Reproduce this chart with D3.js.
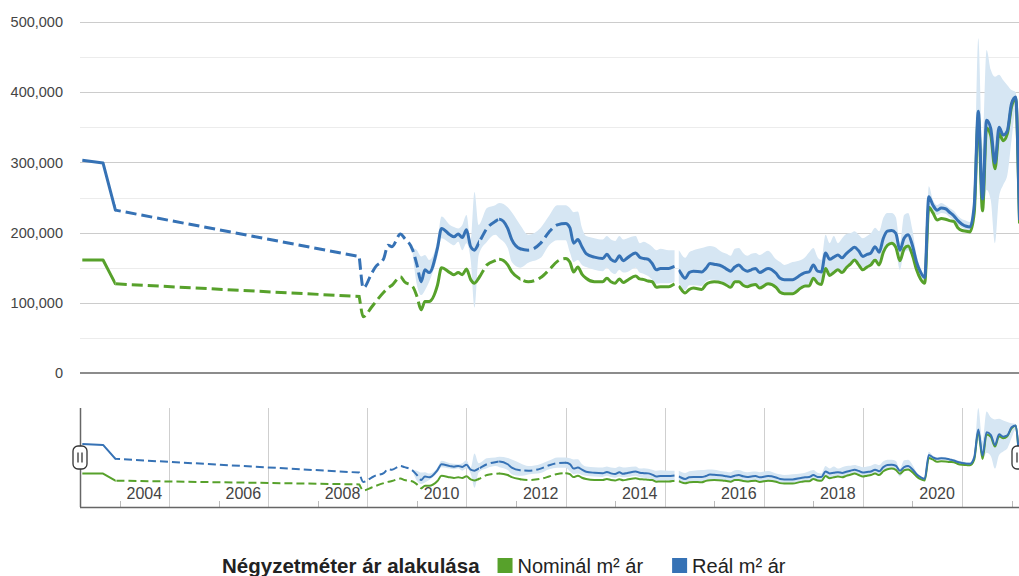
<!DOCTYPE html>
<html><head><meta charset="utf-8">
<script src="https://cdn.jsdelivr.net/npm/d3@7"></script>
<style>
body{margin:0;background:#fff;}
svg{display:block;font-family:Arial,"Liberation Sans",sans-serif;}
</style>
</head><body>
<svg id="chart" width="1019" height="576"></svg>
<script>
// Monthly square-metre prices, thousand Ft
const dates = ["2003-04","2003-09","2003-12","2008-11","2008-12","2009-02","2009-03","2009-05","2009-06","2009-07",
"2009-09","2009-10","2009-12","2010-01","2010-02","2010-03","2010-04","2010-06","2010-07","2010-09",
"2010-10","2010-11","2010-12","2011-01","2011-02","2011-03","2011-04","2011-06","2011-08","2011-09",
"2011-11","2011-12","2012-02","2012-04","2012-07","2012-09","2012-11","2013-01","2013-02","2013-03",
"2013-04","2013-05","2013-06","2013-08","2013-10","2013-11","2013-12","2014-01","2014-02","2014-03",
"2014-04","2014-06","2014-07","2014-08","2014-09","2014-10","2014-11","2014-12","2015-02","2015-03-15",
"2015-04-01","2015-04-15","2015-06","2015-07","2015-08","2015-10","2015-11","2015-12","2016-01","2016-03",
"2016-04","2016-05","2016-06","2016-07","2016-08","2016-09","2016-10","2016-11","2016-12","2017-02",
"2017-04","2017-05","2017-06","2017-08","2017-10","2017-11","2017-12","2018-01","2018-02","2018-03",
"2018-04","2018-05","2018-06","2018-07","2018-08","2018-09","2018-10","2018-11","2018-12","2019-01",
"2019-02","2019-03","2019-04","2019-05","2019-06","2019-07","2019-08","2019-09","2019-10","2019-11",
"2019-12","2020-01","2020-02","2020-03","2020-04","2020-05","2020-06","2020-07","2020-08","2020-09",
"2020-10","2020-11","2020-12","2021-01","2021-02","2021-03","2021-04","2021-05","2021-06","2021-07",
"2021-08","2021-09","2021-10","2021-11","2021-12","2022-01","2022-02","2022-03"];

const nominal = [161,161,127,109,80,94,101,115,121,125,
137,130,123,109,90,102,102,125,150,143,
140,143,140,148,133,128,135,154,160,162,
154,144,134,130,136,147,159,163,158,144,
151,141,135,130,130,135,130,128,134,129,
132,138,134,133,131,130,122,123,123,127,
null,124,114,119,121,119,126,129,130,128,
125,122,130,130,125,123,125,126,121,127,
122,115,113,113,121,124,124,135,128,126,
149,139,143,147,143,150,155,161,154,147,
151,154,161,154,172,182,185,179,160,177,
181,168,147,134,128,236,228,218,220,219,
217,216,207,203,202,201,228,365,231,349,
338,291,341,331,341,379,391,213];

const real = [303,299,232,166,121,142,151,163,182,180,
198,192,175,154,130,147,143,178,206,197,
194,198,193,204,180,175,185,206,216,219,
206,190,177,175,185,201,211,213,207,185,
190,180,170,165,163,169,162,159,167,160,
164,171,165,163,162,156,147,149,149,152,
null,147,135,143,145,144,149,156,155,152,
148,145,151,154,148,145,147,149,143,149,
142,135,133,133,140,143,144,154,145,144,
171,162,165,168,164,170,175,179,174,166,
169,171,180,172,192,202,203,199,175,192,
197,182,158,144,136,251,239,232,235,234,
229,224,217,212,209,208,239,373,248,360,
348,299,350,339,345,384,393,218];

// Interval of the real price
const realLow = [null,null,null,null,null,null,null,null,null,null,
null,null,167,125,111,118,130,166,192,185,
182,187,175,185,161,93,168,187,197,192,
178,158,150,157,164,182,189,189,172,158,
161,154,151,147,145,150,144,141,147,143,
144,150,143,141,138,133,127,128,128,130,
null,128,118,125,125,124,130,133,133,130,
127,125,130,131,127,125,125,127,123,125,
123,118,115,115,121,124,127,137,130,127,
147,138,143,147,144,150,154,158,154,150,
152,155,164,158,175,182,184,175,147,172,
175,164,144,135,133,239,232,225,228,227,
222,218,211,207,204,202,229,322,229,261,
246,185,251,268,282,332,375,210];

const realHigh = [null,null,null,null,null,null,null,null,null,null,
null,null,178,175,166,168,161,189,223,211,
208,206,211,225,189,258,211,235,239,242,
236,229,211,197,207,224,239,239,235,229,
230,207,195,192,190,195,190,188,195,190,
192,195,185,187,184,180,175,177,175,175,
null,175,164,172,175,178,180,181,180,172,
170,167,177,178,171,167,170,171,168,174,
162,158,154,158,161,165,172,178,165,161,
197,185,195,185,192,198,199,202,197,192,
195,199,207,202,221,228,228,222,185,225,
228,204,168,150,138,266,246,239,242,239,
235,231,224,219,217,215,254,477,318,460,
432,422,425,417,410,403,400,226];

// 1 = firm value, 0 = uncertain (drawn dashed)
const certain = [1,1,1,0,0,0,0,0,0,0,
0,0,0,0,1,1,1,1,1,1,
1,1,1,1,1,1,1,0,0,1,
1,1,1,0,0,0,0,1,1,1,
1,1,1,1,1,1,1,1,1,1,
1,1,1,1,1,1,1,1,1,1,
1,1,1,1,1,1,1,1,1,1,
1,1,1,1,1,1,1,1,1,1,
1,1,1,1,1,1,1,1,1,1,
1,1,1,1,1,1,1,1,1,1,
1,1,1,1,1,1,1,1,1,1,
1,1,1,1,1,1,1,1,1,1,
1,1,1,1,1,1,1,1,1,1,
1,1,1,1,1,1,1,1];

const yTicks = [0,100000,200000,300000,400000,500000];
const yMinorTicks = [50000,150000,250000,350000,450000];
const navLabelYears = [2004,2006,2008,2010,2012,2014,2016,2018,2020];
const navGridYears = [2005,2007,2009,2011,2013,2015,2017,2019,2021];
const navTickYears = [2004,2006,2008,2010,2012,2014,2016,2018,2020,2022];
const timeStart = "2003-03-15", timeEnd = "2022-02-25";
const legendTitle = "Négyzetméter ár alakulása";
const seriesNames = ["Nominál m² ár","Reál m² ár"];
const colors = {nominal:"#57a12b", real:"#3672b5", band:"#d6e6f3"};

const parse = s => d3.utcParse("%Y-%m-%d")(s.length === 7 ? s + "-01" : s);
const K = 1000;
const rows = dates.map((d, i) => ({
  date: parse(d),
  nom: nominal[i] == null ? null : nominal[i] * K,
  real: real[i] == null ? null : real[i] * K,
  lo: realLow[i] == null ? null : realLow[i] * K,
  hi: realHigh[i] == null ? null : realHigh[i] * K,
  sure: certain[i] === 1
}));

const svg = d3.select("#chart");
const plot = {left:80, right:1019, top:22, bottom:373};
const nav = {top:408, bottom:507};

const x = d3.scaleUtc().domain([parse(timeStart), parse(timeEnd)]).range([plot.left, plot.right]);
const y = d3.scaleLinear().domain([0, 500000]).range([plot.bottom, plot.top]);
const yNav = d3.scaleLinear().domain([0, d3.max(rows, r => r.hi)]).range([nav.bottom, nav.top]);

// Smooth (monotone) between close points, straight across long stretches
const SMOOTH_MAX_DX = 13;
function curveRun(pts, moveTo) {
  const n = pts.length;
  let d = (moveTo ? "M" : "L") + pts[0][0] + "," + pts[0][1];
  if (n < 2) return d;
  const h = [], s = [], sm = [];
  for (let i = 0; i < n - 1; i++) {
    h[i] = pts[i + 1][0] - pts[i][0];
    s[i] = (pts[i + 1][1] - pts[i][1]) / h[i];
    sm[i] = Math.abs(h[i]) <= SMOOTH_MAX_DX;
  }
  const t = new Array(n).fill(0);
  for (let i = 0; i < n; i++) {
    const L = i > 0 && sm[i - 1], R = i < n - 1 && sm[i];
    if (L && R) {
      const s0 = s[i - 1], s1 = s[i], h0 = h[i - 1], h1 = h[i];
      const p = (s0 * h1 + s1 * h0) / (h0 + h1);
      t[i] = (Math.sign(s0) + Math.sign(s1)) * Math.min(Math.abs(s0), Math.abs(s1), 0.5 * Math.abs(p)) || 0;
    } else if (R) t[i] = s[i];
    else if (L) t[i] = s[i - 1];
  }
  for (let i = 0; i < n - 1; i++) {
    const [x0, y0] = pts[i], [x1, y1] = pts[i + 1];
    if (!sm[i]) d += "L" + x1 + "," + y1;
    else {
      const dx = h[i] / 3;
      d += "C" + (x0 + dx) + "," + (y0 + t[i] * dx) + "," + (x1 - dx) + "," + (y1 - t[i + 1] * dx) + "," + x1 + "," + y1;
    }
  }
  return d;
}
function runsOf(defined) {
  const out = []; let cur = null;
  rows.forEach(r => {
    if (defined(r)) { if (!cur) { cur = []; out.push(cur); } cur.push(r); }
    else cur = null;
  });
  return out;
}
function linePath(key, ys) {
  return runsOf(r => r[key] != null)
    .map(run => curveRun(run.map(r => [x(r.date), ys(r[key])]), true)).join("");
}
function bandPath(ys) {
  return runsOf(r => r.lo != null && r.hi != null).map(run => {
    const up = run.map(r => [x(r.date), ys(r.hi)]);
    const dn = run.map(r => [x(r.date), ys(r.lo)]).reverse();
    return curveRun(up, true) + curveRun(dn, false) + "Z";
  }).join("");
}

// --- main grid
svg.append("g").selectAll("line").data(yMinorTicks).join("line")
  .attr("x1", plot.left).attr("x2", plot.right)
  .attr("y1", d => Math.round(y(d)) + 0.5).attr("y2", d => Math.round(y(d)) + 0.5)
  .attr("stroke", "#ececec");
svg.append("g").selectAll("line").data(yTicks.filter(t => t > 0)).join("line")
  .attr("x1", plot.left).attr("x2", plot.right)
  .attr("y1", d => Math.round(y(d)) + 0.5).attr("y2", d => Math.round(y(d)) + 0.5)
  .attr("stroke", "#cccccc");

const yAxis = svg.append("g").attr("transform", `translate(${plot.left - 14},0)`)
  .call(d3.axisLeft(y).tickValues(yTicks).tickFormat(d3.format(",")).tickSize(0));
yAxis.select(".domain").remove();
yAxis.selectAll("text").attr("font-size", 14.5).attr("fill", "#444")
  .attr("font-family", "Arial, 'Liberation Sans', sans-serif");

// --- certain / uncertain x-ranges as clip regions
const defs = svg.append("defs");
const runs = [];
for (let i = 0; i < rows.length - 1; i++) {
  const a = rows[i], b = rows[i + 1];
  if (a.real == null || b.real == null) continue;
  const kind = a.sure && b.sure ? "solid" : "dash";
  const last = runs[runs.length - 1];
  if (last && last.kind === kind && last.end === i) { last.end = i + 1; last.x1 = x(b.date); }
  else runs.push({kind, start:i, end:i + 1, x0:x(a.date), x1:x(b.date)});
}
["solid", "dash"].forEach(kind => {
  defs.append("clipPath").attr("id", "clip-" + kind).selectAll("rect")
    .data(runs.filter(r => r.kind === kind)).join("rect")
    .attr("x", r => r.x0 - 0.3).attr("width", r => r.x1 - r.x0 + 0.6)
    .attr("y", 0).attr("height", 576);
});
defs.append("clipPath").attr("id", "clip-plot").append("rect")
  .attr("x", plot.left).attr("y", 0).attr("width", plot.right - plot.left).attr("height", 576);

function drawSeries(g, ys, lineWidth, dash) {
  g.append("path").attr("d", bandPath(ys)).attr("fill", colors.band);
  [["nom", colors.nominal], ["real", colors.real]].forEach(([key, col]) => {
    const d = linePath(key, ys);
    g.append("path").attr("d", d).attr("fill", "none")
      .attr("stroke", col).attr("stroke-width", lineWidth)
      .attr("stroke-linejoin", "round").attr("clip-path", "url(#clip-solid)");
    g.append("path").attr("d", d).attr("fill", "none")
      .attr("stroke", col).attr("stroke-width", lineWidth)
      .attr("stroke-dasharray", dash).attr("clip-path", "url(#clip-dash)");
  });
}

const mainG = svg.append("g").attr("clip-path", "url(#clip-plot)");
drawSeries(mainG, y, 3, "11,5");

// zero baseline
svg.append("line").attr("x1", plot.left).attr("x2", plot.right)
  .attr("y1", y(0)).attr("y2", y(0)).attr("stroke", "#666").attr("stroke-width", 1.5);

// --- range navigator
const yr = yv => Date.UTC(yv, 0, 1);
const yrMid = yv => Date.UTC(yv, 6, 1);
svg.append("g").selectAll("line").data(navGridYears).join("line")
  .attr("x1", d => Math.round(x(yr(d))) + 0.5).attr("x2", d => Math.round(x(yr(d))) + 0.5)
  .attr("y1", nav.top).attr("y2", nav.bottom).attr("stroke", "#cfcfcf");
svg.append("g").selectAll("line").data(navTickYears).join("line")
  .attr("x1", d => Math.round(x(yr(d))) + 0.5).attr("x2", d => Math.round(x(yr(d))) + 0.5)
  .attr("y1", nav.bottom - 6).attr("y2", nav.bottom).attr("stroke", "#bbb");

const navG = svg.append("g").attr("clip-path", "url(#clip-plot)");
drawSeries(navG, yNav, 2, "8,4");

svg.append("g").selectAll("text").data(navLabelYears).join("text")
  .attr("x", d => x(yrMid(d))).attr("y", 499).attr("text-anchor", "middle")
  .attr("font-size", 16).attr("fill", "#444").text(d => d);

svg.append("line").attr("x1", plot.left).attr("x2", plot.right)
  .attr("y1", nav.bottom + 0.5).attr("y2", nav.bottom + 0.5).attr("stroke", "#666").attr("stroke-width", 1.5);
svg.append("line").attr("x1", plot.left + 0.5).attr("x2", plot.left + 0.5)
  .attr("y1", nav.top).attr("y2", nav.bottom).attr("stroke", "#666").attr("stroke-width", 1.5);

// range handles
[plot.left, plot.right].forEach(hx => {
  const h = svg.append("g").attr("transform", `translate(${hx},457.5)`);
  h.append("rect").attr("x", -7).attr("y", -11.5).attr("width", 14).attr("height", 23).attr("rx", 5)
    .attr("fill", "#fff").attr("stroke", "#333").attr("stroke-width", 1.3);
  [-2, 2].forEach(dx => h.append("line").attr("x1", dx).attr("x2", dx).attr("y1", -5).attr("y2", 5)
    .attr("stroke", "#333").attr("stroke-width", 1.3));
});

// --- legend
const leg = svg.append("g").attr("transform", "translate(222,573)");
const title = leg.append("text").attr("font-size", 20.5).attr("font-weight", "bold").attr("fill", "#222").text(legendTitle);
let cx = title.node().getComputedTextLength() + 18;
[[seriesNames[0], colors.nominal], [seriesNames[1], colors.real]].forEach(([name, col]) => {
  leg.append("rect").attr("x", cx).attr("y", -15).attr("width", 15).attr("height", 15).attr("fill", col);
  const t = leg.append("text").attr("x", cx + 20).attr("font-size", 20).attr("fill", "#222").text(name);
  cx += 20 + t.node().getComputedTextLength() + 29;
});
</script>
</body></html>
